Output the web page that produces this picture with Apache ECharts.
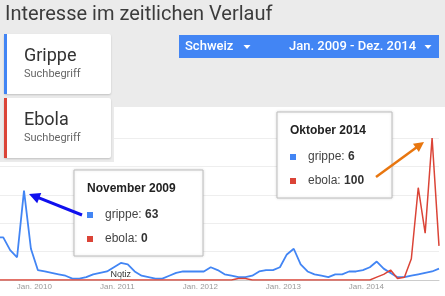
<!DOCTYPE html>
<html>
<head>
<meta charset="utf-8">
<script src="https://cdn.jsdelivr.net/npm/echarts@6/dist/echarts.min.js"></script>
<style>
html,body{margin:0;padding:0;background:#fff;}
#c{width:445px;height:296px;}
</style>
</head>
<body>
<div id="c"></div>
<script>
// ---- data ----
const years = [2009, 2010, 2011, 2012, 2013, 2014];
const lastMonthIndex = 70; // Nov 2014
const grippe = [18,22,14,10,12,24,30,30,21,16,63,22,7,6,5,4,3,1,1,2,4,5,6,9,12,11,6,3,2,1,1,3,5,6,6,6,6,9,7,4,3,2,2,3,6,7,7,9,18,22,11,6,4,3,2,4,4,6,6,7,9,13,8,5,2,2,3,4,5,6,8];
const ebola  = [0,0,0,0,0,0,0,0,0,0,0,0,0,0,0,0,0,0,0,0,0,0,0,0,0,0,0,0,0,0,0,0,0,0,0,0,0,0,0,0,0,1,1,0,0,0,0,0,0,0,0,0,0,0,0,0,0,0,0,0,0,2,4,7,1,2,15,65,33,100,24];
const monthNames = ['Januar','Februar','März','April','Mai','Juni','Juli','August','September','Oktober','November','Dezember'];
const yTicks = [0, 20, 40, 60, 80, 100];
const xLabelYears = [2010, 2011, 2012, 2013, 2014];
const categories = [];
for (let i = 0; i <= lastMonthIndex; i++) {
  const y = years[0] + Math.floor(i / 12);
  const m = i % 12 + 1;
  categories.push(y + '-' + (m < 10 ? '0' + m : m));
}
const note = { cat: '2011-01', text: 'Notiz' };
const callouts = ['2009-11', '2014-10'];
const visibleFrom = 6.53; // visible window starts mid-July 2009 (chart is cropped)

function catTitle(i) {
  return monthNames[i % 12] + ' ' + (years[0] + Math.floor(i / 12));
}
// month index i is plotted at mid-month; year boundaries at (year-2009)*12 - 0.5
function yearStart(y) { return (y - years[0]) * 12 - 0.5; }

const BLUE = '#4285f4', RED = '#db4437', GRAY = '#ebebeb';

function arrow(x1, y1, x2, y2, color, w, hl, hw) {
  const dx = x2 - x1, dy = y2 - y1, L = Math.sqrt(dx*dx + dy*dy);
  const ux = dx / L, uy = dy / L, nx = -uy, ny = ux;
  const bx = x2 - hl * ux, by = y2 - hl * uy;
  return [
    { type: 'line', z: 120, shape: { x1: x1, y1: y1, x2: bx + ux, y2: by + uy }, style: { stroke: color, lineWidth: w } },
    { type: 'polygon', z: 120, shape: { points: [[x2, y2], [bx + hw*nx, by + hw*ny], [bx - hw*nx, by - hw*ny]] }, style: { fill: color } }
  ];
}

function box(x, y, w, h, idx) {
  const els = [];
  els.push({ type: 'rect', z: 110, shape: { x: x, y: y, width: w, height: h }, style: { fill: '#fff', stroke: '#bdbdbd', lineWidth: 1, shadowBlur: 3, shadowColor: 'rgba(0,0,0,0.12)' } });
  els.push({ type: 'text', z: 111, x: x + 13, y: y + 19, style: { text: catTitle(idx), font: 'bold 12px "Liberation Sans", Arial', fill: '#222', textVerticalAlign: 'middle' } });
  const rows = [['grippe', grippe[idx], BLUE], ['ebola', ebola[idx], RED]];
  rows.forEach(function (r, k) {
    const ry = y + 45 + k * 24;
    els.push({ type: 'rect', z: 111, shape: { x: x + 13, y: ry - 3, width: 6, height: 6 }, style: { fill: r[2] } });
    els.push({ type: 'text', z: 111, x: x + 31, y: ry, style: {
      text: '{n|' + r[0] + ': }{b|' + r[1] + '}', textVerticalAlign: 'middle',
      rich: { n: { font: '12px "Liberation Sans", Arial', fill: '#444' }, b: { font: 'bold 12px "Liberation Sans", Arial', fill: '#333' } }
    } });
  });
  return els;
}

function card(y, label, color) {
  return [
    { type: 'rect', z: 105, shape: { x: 4, y: y, width: 107, height: 60, r: 2 }, style: { fill: '#fff', shadowBlur: 2, shadowOffsetY: 1, shadowColor: 'rgba(0,0,0,0.18)' } },
    { type: 'rect', z: 106, shape: { x: 4, y: y, width: 3, height: 60 }, style: { fill: color } },
    { type: 'text', z: 106, x: 24, y: y + 22, style: { text: label, font: '18px Roboto', fill: '#333', textVerticalAlign: 'middle' } },
    { type: 'text', z: 106, x: 24, y: y + 40, style: { text: 'Suchbegriff', font: '11px Roboto', fill: '#666', textVerticalAlign: 'middle' } }
  ];
}

function caret(x, y) {
  return { type: 'polygon', z: 106, shape: { points: [[x - 3.5, y - 2], [x + 3.5, y - 2], [x, y + 2]] }, style: { fill: '#fff' } };
}

let graphics = [];
graphics.push({ type: 'rect', z: 100, shape: { x: 0, y: 0, width: 445, height: 107 }, style: { fill: GRAY } });
graphics.push({ type: 'rect', z: 100, shape: { x: 0, y: 107, width: 114, height: 55 }, style: { fill: GRAY } });
graphics.push({ type: 'text', z: 101, x: 5, y: 15, style: { text: 'Interesse im zeitlichen Verlauf', font: '20px Roboto', fill: '#3c3c3c', textVerticalAlign: 'middle' } });
graphics = graphics.concat(card(34, 'Grippe', BLUE), card(98, 'Ebola', RED));
graphics.push({ type: 'rect', z: 105, shape: { x: 179, y: 35, width: 260, height: 23 }, style: { fill: BLUE } });
graphics.push({ type: 'text', z: 106, x: 185, y: 46.5, style: { text: 'Schweiz', font: '500 13px Roboto', fill: '#fff', textVerticalAlign: 'middle' } });
graphics.push(caret(247, 47));
graphics.push({ type: 'text', z: 106, x: 289, y: 46.5, style: { text: 'Jan. ' + years[0] + ' - Dez. ' + years[years.length - 1], font: '500 13px Roboto', fill: '#fff', textVerticalAlign: 'middle' } });
graphics.push(caret(428, 47));
graphics = graphics.concat(box(74, 170, 129, 86, categories.indexOf(callouts[0])), box(277, 112, 115, 86, categories.indexOf(callouts[1])));
graphics = graphics.concat(arrow(82, 215, 29, 194, '#1010ee', 3, 11, 5.5), arrow(376, 177, 424, 142, '#e8760f', 2.5, 10, 5));

const labelValues = xLabelYears.map(yearStart);
const chart = echarts.init(document.getElementById('c'), null, { renderer: 'canvas' });
chart.setOption({
  animation: false,
  backgroundColor: '#fff',
  grid: { left: 0, right: 6, top: 138, bottom: 16, containLabel: false },
  xAxis: {
    type: 'value', min: visibleFrom, max: lastMonthIndex,
    axisLine: { show: true, onZero: false, lineStyle: { color: '#ccc' } },
    axisTick: { show: false, customValues: labelValues },
    axisLabel: {
      customValues: labelValues,
      formatter: function (v) { return 'Jan. ' + (years[0] + Math.round((v + 0.5) / 12)); },
      fontSize: 8, color: '#999', fontFamily: '"Liberation Sans", Arial', margin: 3
    },
    splitLine: { show: false }
  },
  yAxis: {
    type: 'value', min: yTicks[0], max: yTicks[yTicks.length - 1], interval: yTicks[1] - yTicks[0],
    axisLabel: { show: false }, axisLine: { show: false }, axisTick: { show: false },
    splitLine: { lineStyle: { color: '#eeeeee' } }
  },
  series: [
    { name: 'grippe', type: 'line', data: grippe.map(function (v, i) { return [i, v]; }), symbol: 'none', clip: true, lineStyle: { color: BLUE, width: 1.8 }, z: 3 },
    { name: 'ebola', type: 'line', data: ebola.map(function (v, i) { return [i, v]; }), symbol: 'none', clip: true, lineStyle: { color: RED, width: 1.5 }, z: 4,
      markPoint: {
        symbol: 'rect', symbolSize: [1, 4], symbolOffset: [0, -2],
        itemStyle: { color: '#999' },
        label: { show: true, position: 'top', distance: 0, offset: [0, 3], formatter: note.text, color: '#333', fontSize: 9, fontFamily: '"Liberation Sans", Arial' },
        data: [{ coord: [categories.indexOf(note.cat), 0] }]
      }
    }
  ],
  graphic: graphics
});
</script>
</body>
</html>
